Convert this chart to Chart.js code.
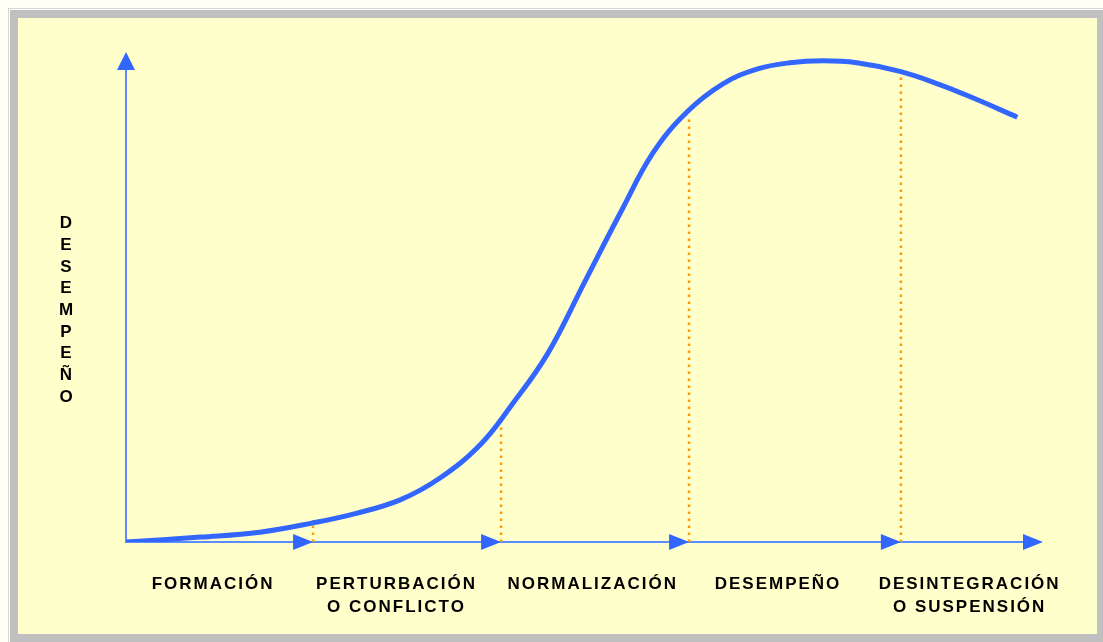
<!DOCTYPE html>
<html>
<head>
<meta charset="utf-8">
<script src="https://cdn.jsdelivr.net/npm/chart.js@4"></script>
<style>
  html, body { margin: 0; padding: 0; background: #fffff4; }
</style>
</head>
<body>
<canvas id="teamChart" width="1103" height="642"></canvas>
<script>
// curva de desempeño del equipo (x: tiempo 0-100, y: desempeño 0-100)
const curveX = [0, 8.1, 14.6, 20.4, 25.0, 29.9, 34.2, 38.6, 42.0, 46.0, 50.0, 54.0, 57.5, 61.2, 65.1, 68.8, 72.4, 76.0, 79.7, 84.5, 88.8, 92.4, 97.2];
const curveY = [0, 1.0, 2.0, 3.9, 5.8, 8.6, 13.0, 19.8, 27.8, 38.5, 53.0, 67.5, 79.5, 87.8, 93.5, 96.5, 97.8, 98.2, 97.8, 96.0, 93.3, 90.6, 86.7];

// limites entre etapas y altura de las lineas punteadas
const stageEdges = [20.4, 40.9, 61.4, 84.5];
const stageTops = [4.5, 25.3, 86.7, 94.9];
const axisEnd = 100;

const stageLabels = [
  ["FORMACIÓN"],
  ["PERTURBACIÓN", "O CONFLICTO"],
  ["NORMALIZACIÓN"],
  ["DESEMPEÑO"],
  ["DESINTEGRACIÓN", "O SUSPENSIÓN"],
];
const labelCenters = [9.5, 29.5, 50.9, 71.1, 92.0];
const yTitle = "DESEMPEÑO";

const BLUE = "#3366ff";
const AXIS_BLUE = "#5c8cff";
const ORANGE = "#ff9900";

const curvePoints = curveX.map((x, i) => ({ x: x, y: curveY[i] }));

const dottedSets = stageEdges.map((x, i) => ({
  data: [{ x: x, y: 0 }, { x: x, y: stageTops[i] }],
  borderColor: ORANGE,
  borderWidth: 2.5,
  borderDash: [2.5, 4.5],
  pointRadius: 0,
  order: 2,
}));

// fondo amarillo con marco gris
const framePlugin = {
  id: "frame",
  beforeDraw(chart) {
    const ctx = chart.ctx;
    ctx.save();
    ctx.fillStyle = "#fffff4";
    ctx.fillRect(0, 0, chart.width, chart.height);
    ctx.strokeStyle = "#d6d6d6";
    ctx.lineWidth = 1;
    ctx.strokeRect(8.5, 8.5, chart.width, chart.height);
    ctx.fillStyle = "#c0c0c0";
    ctx.fillRect(10, 10, chart.width, chart.height);
    ctx.fillStyle = "#ffffcc";
    ctx.fillRect(18, 18, chart.width - 24, chart.height - 26);
    ctx.restore();
  },
};

// ejes con flechas
const axesPlugin = {
  id: "arrowAxes",
  beforeDatasetsDraw(chart) {
    const ctx = chart.ctx;
    const xs = chart.scales.x;
    const ys = chart.scales.y;
    const x0 = xs.getPixelForValue(0);
    const y0 = ys.getPixelForValue(0);
    const xEnd = xs.getPixelForValue(axisEnd);
    const yEnd = ys.getPixelForValue(100);
    ctx.save();
    ctx.strokeStyle = AXIS_BLUE;
    ctx.lineWidth = 2;
    ctx.beginPath();
    ctx.moveTo(x0, yEnd + 10);
    ctx.lineTo(x0, y0);
    ctx.lineTo(xEnd - 10, y0);
    ctx.stroke();

    ctx.fillStyle = BLUE;
    // flecha vertical
    ctx.beginPath();
    ctx.moveTo(x0, yEnd);
    ctx.lineTo(x0 - 9, yEnd + 18);
    ctx.lineTo(x0 + 9, yEnd + 18);
    ctx.closePath();
    ctx.fill();
    // flechas horizontales
    stageEdges.concat([axisEnd]).forEach((v) => {
      const tip = xs.getPixelForValue(v);
      ctx.beginPath();
      ctx.moveTo(tip, y0);
      ctx.lineTo(tip - 20, y0 - 8);
      ctx.lineTo(tip - 20, y0 + 8);
      ctx.closePath();
      ctx.fill();
    });
    ctx.restore();
  },
  afterDraw(chart) {
    const ctx = chart.ctx;
    const xs = chart.scales.x;
    const ys = chart.scales.y;
    const area = chart.chartArea;
    ctx.save();
    ctx.fillStyle = "#000";
    ctx.font = "bold 17px 'Liberation Sans', Arial, sans-serif";
    ctx.textAlign = "center";
    ctx.textBaseline = "middle";
    ctx.letterSpacing = "2px";
    stageLabels.forEach((lines, i) => {
      const cx = xs.getPixelForValue(labelCenters[i]);
      lines.forEach((t, j) => {
        ctx.fillText(t, cx, area.bottom + 42 + j * 23);
      });
    });
    // titulo vertical, letra por letra
    ctx.letterSpacing = "0px";
    const tx = area.left - 60;
    const ty = ys.getPixelForValue(65);
    Array.from(yTitle).forEach((ch, i) => {
      ctx.fillText(ch, tx, ty + i * 21.7);
    });
    ctx.restore();
  },
};

const ctx = document.getElementById("teamChart").getContext("2d");
const teamChart = new Chart(ctx, {
  type: "line",
  data: {
    datasets: [
      {
        data: curvePoints,
        borderColor: BLUE,
        borderWidth: 5,
        pointRadius: 0,
        tension: 0.4,
        order: 1,
      },
    ].concat(dottedSets),
  },
  options: {
    responsive: false,
    animation: false,
    layout: { padding: { left: 126, right: 60, top: 52, bottom: 100 } },
    plugins: {
      legend: { display: false },
      tooltip: { enabled: false },
    },
    scales: {
      x: { type: "linear", min: 0, max: axisEnd, display: false },
      y: { type: "linear", min: 0, max: 100, display: false },
    },
  },
  plugins: [framePlugin, axesPlugin],
});
</script>
</body>
</html>
